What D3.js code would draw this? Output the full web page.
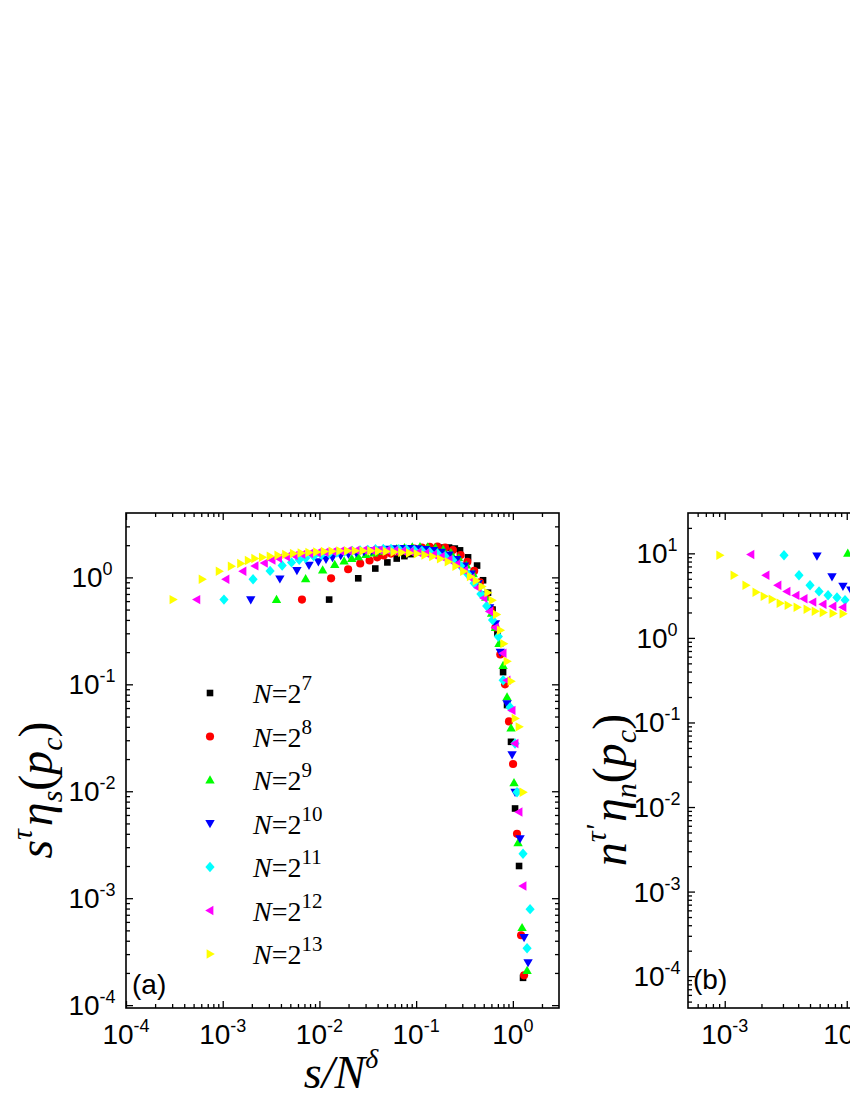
<!DOCTYPE html>
<html><head><meta charset="utf-8">
<script src="https://cdn.jsdelivr.net/npm/d3@7/dist/d3.min.js"></script>
<style>body{margin:0;background:#fff;}svg{display:block;}</style>
</head><body>
<svg id="c" width="850" height="1100"></svg>
<script>
// ---------- data ----------
const seriesExp = ["7","8","9","10","11","12","13"];
const seriesColors = ["#000000","#ff0000","#00ff00","#0000ff","#00ffff","#ff00ff","#ffff00"];
const seriesShapes = ["square","circle","triUp","triDown","diamond","triLeft","triRight"];

// panel (a): s/N^delta vs s^tau eta_s(p_c)
const aX_N7 = [0.0126,0.0252,0.0378,0.0504,0.063,0.0756,0.0882,0.1047,0.1259,0.1514,0.182,0.2188,0.2512,0.2844,0.3443,0.4266,0.492,0.5534,0.6166,0.6918,0.7925,0.871,0.9572,1.054,1.159,1.274];
const aY_N7 = [0.62,0.98,1.21,1.38,1.50,1.58,1.65,1.72,1.80,1.86,1.90,1.90,1.86,1.79,1.54,1.29,0.94,0.72,0.50,0.30,0.13,0.064,0.029,0.0069,0.002,0.00018];
const aX_N8 = [0.0066,0.0132,0.0198,0.0264,0.033,0.0396,0.0462,0.05495,0.06607,0.07943,0.0955,0.1148,0.138,0.166,0.1995,0.2399,0.2884,0.3388,0.3981,0.4571,0.5248,0.5888,0.6607,0.7413,0.8299,0.912,1.005,1.104,1.216,1.306];
const aY_N8 = [0.62,0.98,1.19,1.35,1.44,1.54,1.60,1.67,1.74,1.80,1.86,1.90,1.93,1.94,1.90,1.80,1.62,1.40,1.15,0.90,0.68,0.50,0.34,0.19,0.10,0.045,0.018,0.004,0.00045,0.00019];
const aX_N9 = [0.0036,0.0072,0.0108,0.0144,0.018,0.0216,0.0252,0.0302,0.03631,0.04365,0.05248,0.0631,0.07586,0.0912,0.1096,0.1318,0.1585,0.1905,0.2291,0.2754,0.3311,0.389,0.4571,0.5248,0.6026,0.6607,0.7194,0.7925,0.871,0.9572,1.028,1.132,1.245,1.403];
const aY_N9 = [0.62,0.97,1.17,1.32,1.42,1.50,1.56,1.63,1.69,1.75,1.80,1.85,1.89,1.92,1.93,1.92,1.89,1.82,1.70,1.52,1.30,1.08,0.85,0.65,0.46,0.34,0.24,0.15,0.076,0.039,0.012,0.0033,0.00053,0.00021];
const aX_N10 = [0.00195,0.0039,0.00585,0.0078,0.00975,0.0117,0.01365,0.0166,0.01995,0.02399,0.02884,0.03467,0.04169,0.05012,0.06026,0.07244,0.0871,0.1047,0.1259,0.1514,0.182,0.2188,0.263,0.3162,0.3715,0.4365,0.5012,0.5754,0.6607,0.7413,0.871,0.9817,1.054,1.186,1.306,1.436];
const aY_N10 = [0.62,0.97,1.16,1.30,1.40,1.48,1.54,1.60,1.65,1.70,1.74,1.78,1.81,1.84,1.86,1.87,1.87,1.86,1.83,1.79,1.72,1.62,1.47,1.28,1.08,0.88,0.69,0.52,0.37,0.20,0.066,0.022,0.0098,0.0036,0.00043,0.00025];
const aX_N11 = [0.00103,0.00206,0.00309,0.00412,0.00515,0.00618,0.00721,0.00871,0.01047,0.01259,0.01514,0.0182,0.02188,0.0263,0.03162,0.03802,0.04571,0.05495,0.06607,0.07943,0.0955,0.1148,0.138,0.166,0.1995,0.2399,0.2884,0.3388,0.3981,0.4677,0.537,0.6166,0.7079,0.7943,0.9354,1.054,1.104,1.274,1.403,1.507];
const aY_N11 = [0.62,0.96,1.15,1.29,1.38,1.46,1.52,1.58,1.63,1.67,1.71,1.74,1.77,1.79,1.81,1.83,1.84,1.84,1.83,1.82,1.80,1.77,1.73,1.67,1.58,1.45,1.28,1.08,0.88,0.70,0.54,0.40,0.28,0.109,0.061,0.028,0.0098,0.0026,0.00034,0.00079];
const aX_N12 = [0.00054,0.00108,0.00162,0.00216,0.0027,0.00324,0.00378,0.004571,0.005495,0.006607,0.007943,0.00955,0.01148,0.0138,0.0166,0.01995,0.02399,0.02884,0.03467,0.04169,0.05012,0.06026,0.07244,0.0871,0.1047,0.1259,0.1514,0.182,0.2188,0.263,0.3162,0.3715,0.4365,0.5012,0.5754,0.6607,0.7925,0.871,0.9817,1.054,1.159,1.274];
const aY_N12 = [0.62,0.96,1.14,1.28,1.36,1.45,1.51,1.56,1.60,1.64,1.67,1.70,1.72,1.74,1.76,1.78,1.79,1.80,1.80,1.80,1.79,1.78,1.76,1.74,1.71,1.68,1.63,1.56,1.46,1.33,1.16,0.98,0.80,0.64,0.48,0.34,0.195,0.109,0.057,0.028,0.0064,0.0013];
const aX_N13 = [0.000306,0.000612,0.000918,0.001224,0.00153,0.001836,0.002142,0.00257,0.00309,0.003715,0.004467,0.00537,0.006457,0.007762,0.009333,0.01122,0.01349,0.01622,0.0195,0.02344,0.02818,0.03388,0.04074,0.04898,0.05888,0.07079,0.08511,0.1023,0.123,0.1479,0.1778,0.2138,0.257,0.309,0.3631,0.4169,0.4786,0.5495,0.6095,0.6761,0.7413,0.8035,0.871,0.9572,1.054,1.159,1.274];
const aY_N13 = [0.62,0.96,1.14,1.27,1.35,1.44,1.50,1.54,1.58,1.61,1.64,1.67,1.69,1.71,1.73,1.75,1.76,1.77,1.77,1.77,1.77,1.77,1.76,1.75,1.73,1.71,1.69,1.66,1.62,1.57,1.49,1.40,1.27,1.14,1.02,0.93,0.82,0.72,0.61,0.45,0.32,0.24,0.164,0.107,0.048,0.04,0.0098];

// panel (b): visible part
const bX_N9 = [0.0102];
const bY_N9 = [10.0];
const bX_N10 = [0.0057,0.00757,0.00931,0.0108];
const bY_N10 = [9.3,5.3,4.1,3.7];
const bX_N11 = [0.00306,0.00406,0.0050,0.00593,0.00703,0.00832,0.00968];
const bY_N11 = [9.5,5.5,4.2,3.55,3.2,3.0,2.8];
const bX_N12 = [0.00164,0.00218,0.00273,0.00324,0.00384,0.00447,0.00528,0.0064,0.00771,0.00931];
const bY_N12 = [9.7,5.5,4.2,3.55,3.18,2.9,2.65,2.5,2.37,2.3];
const bX_N13 = [0.00091,0.00119,0.00149,0.0018,0.0021,0.00244,0.00284,0.0033,0.00391,0.00472,0.0055,0.0064,0.00771,0.00931];
const bY_N13 = [9.5,5.5,4.2,3.46,3.1,2.86,2.57,2.43,2.3,2.18,2.07,2.0,1.95,1.93];

const aXDomain = [1e-4, 3];
const aYDomain = [9.4e-5, 4];
const bXDomain = [5e-4, 2];
const bYDomain = [4.2e-5, 30];
const aXTicks = [1e-4,1e-3,1e-2,1e-1,1], aXTickExp = ["-4","-3","-2","-1","0"];
const aYTicks = [1e-4,1e-3,1e-2,1e-1,1], aYTickExp = ["-4","-3","-2","-1","0"];
const bXTicks = [1e-3,1e-2,1e-1,1], bXTickExp = ["-3","-2","-1","0"];
const bYTicks = [1e-4,1e-3,1e-2,1e-1,1,10], bYTickExp = ["-4","-3","-2","-1","0","1"];

// ---------- drawing ----------
const svg = d3.select("#c");
svg.append("rect").attr("width",850).attr("height",1100).attr("fill","#fff");
const SANS = "'Liberation Sans', Arial, sans-serif";
const SERIF = "'Liberation Serif', 'Times New Roman', serif";

function shapePath(s){
  switch(s){
    case "square": return "M-3.3,-3.3h6.6v6.6h-6.6Z";
    case "circle": return d3.symbol(d3.symbolCircle, 52)();
    case "triUp": return "M0,-4.8L4.7,3.4L-4.7,3.4Z";
    case "triDown": return "M0,4.8L4.7,-3.4L-4.7,-3.4Z";
    case "diamond": return "M0,-5.2L4.6,0L0,5.2L-4.6,0Z";
    case "triLeft": return "M-4.8,0L3.4,-4.7L3.4,4.7Z";
    case "triRight": return "M4.8,0L-3.4,-4.7L-3.4,4.7Z";
  }
}
function minors(dom){
  const out=[];
  const d0=Math.floor(Math.log10(dom[0])), d1=Math.ceil(Math.log10(dom[1]));
  for(let d=d0; d<=d1; d++) for(let m=2;m<=9;m++){const v=m*Math.pow(10,d); if(v>dom[0]*1.0001 && v<dom[1]*0.9999) out.push(v);}
  return out;
}
function frame(x,y,xT,yT){
  const g = svg.append("g");
  const [x0,x1]=x.range(), [y0,y1]=y.range();
  const defs=[[d3.axisBottom,x,xT,`translate(0,${y0})`],[d3.axisTop,x,xT,`translate(0,${y1})`],
              [d3.axisLeft,y,yT,`translate(${x0},0)`],[d3.axisRight,y,yT,`translate(${x1},0)`]];
  defs.forEach(([ax,sc,maj,tr])=>{
    [[maj,-7],[minors(sc.domain()),-4]].forEach(([vals,len])=>{
      const a = g.append("g").attr("transform",tr)
        .call(ax(sc).tickValues(vals).tickSize(len).tickSizeOuter(0).tickFormat(""));
      a.select(".domain").remove();
      a.selectAll("line").attr("stroke","#000").attr("stroke-width",1.3);
    });
  });
  g.append("rect").attr("x",x0).attr("y",y1).attr("width",x1-x0).attr("height",y0-y1)
    .attr("fill","none").attr("stroke","#000").attr("stroke-width",1.6);
}
function tickLabel(x,y,exp){
  const t = svg.append("text").attr("x",x).attr("y",y).attr("text-anchor","middle")
    .style("font-family",SANS).style("font-size","28px").attr("fill","#000");
  t.append("tspan").text("10");
  t.append("tspan").attr("dy",-12).style("font-size","18px").text(exp);
}
function points(x,y,xs,ys,k){
  svg.append("g").selectAll("path").data(xs.map((v,i)=>[v,ys[i]])).join("path")
    .attr("d",shapePath(seriesShapes[k])).attr("fill",seriesColors[k])
    .attr("transform",d=>`translate(${x(d[0])},${y(d[1])})`);
}
function yLabel(cx,cy,base,sup,sub){
  const t = svg.append("text").attr("transform",`translate(${cx},${cy}) rotate(-90)`)
    .attr("text-anchor","middle").style("font-family",SERIF).style("font-size","48px").style("font-style","italic");
  t.append("tspan").text(base);
  t.append("tspan").attr("dy",-20).style("font-size","30px").text(sup);
  t.append("tspan").attr("dy",20).attr("dx",3).text("η");
  t.append("tspan").attr("dy",10).style("font-size","30px").text(sub);
  t.append("tspan").attr("dy",-10).style("font-style","normal").text("(");
  t.append("tspan").text("p");
  t.append("tspan").attr("dy",10).style("font-size","30px").text("c");
  t.append("tspan").attr("dy",-10).style("font-style","normal").text(")");
}

// panel (a)
const xa = d3.scaleLog().domain(aXDomain).range([126,559]);
const ya = d3.scaleLog().domain(aYDomain).range([1008,513]);
frame(xa,ya,aXTicks,aYTicks);
const aX=[aX_N7,aX_N8,aX_N9,aX_N10,aX_N11,aX_N12,aX_N13];
const aY=[aY_N7,aY_N8,aY_N9,aY_N10,aY_N11,aY_N12,aY_N13];
aX.forEach((xs,k)=>points(xa,ya,xs,aY[k],k));
aXTicks.forEach((v,i)=>tickLabel(xa(v),1044,aXTickExp[i]));
aYTicks.forEach((v,i)=>tickLabel(126-34,ya(v)+10,aYTickExp[i]));
// legend
seriesExp.forEach((e,k)=>{
  const ly = 693 + k*43.5;
  svg.append("path").attr("d",shapePath(seriesShapes[k])).attr("fill",seriesColors[k])
    .attr("transform",`translate(210,${ly})`);
  const t = svg.append("text").attr("x",253).attr("y",ly+10).style("font-family",SERIF).style("font-size","28px");
  t.append("tspan").style("font-style","italic").text("N");
  t.append("tspan").text("=2");
  t.append("tspan").attr("dy",-13).style("font-size","21px").text(e);
});
svg.append("text").attr("x",132).attr("y",994).style("font-family",SANS).style("font-size","28px").text("(a)");
yLabel(52,790,"s","τ","s");
const xl = svg.append("text").attr("x",341).attr("y",1088).attr("text-anchor","middle")
  .style("font-family",SERIF).style("font-size","46px").style("font-style","italic");
xl.append("tspan").text("s/N");
xl.append("tspan").attr("dy",-20).style("font-size","28px").text("δ");

// panel (b)
const xb = d3.scaleLog().domain(bXDomain).range([688,1127.5]);
const yb = d3.scaleLog().domain(bYDomain).range([1008,513]);
frame(xb,yb,bXTicks,bYTicks);
const bX=[null,null,bX_N9,bX_N10,bX_N11,bX_N12,bX_N13];
const bY=[null,null,bY_N9,bY_N10,bY_N11,bY_N12,bY_N13];
bX.forEach((xs,k)=>{ if(xs) points(xb,yb,xs,bY[k],k); });
bXTicks.forEach((v,i)=>tickLabel(xb(v),1044,bXTickExp[i]));
bYTicks.forEach((v,i)=>tickLabel(688-31,yb(v)+10,bYTickExp[i]));
svg.append("text").attr("x",693).attr("y",989).style("font-family",SANS).style("font-size","28px").text("(b)");
yLabel(626,790,"n","τ'","n");
</script>
</body></html>
